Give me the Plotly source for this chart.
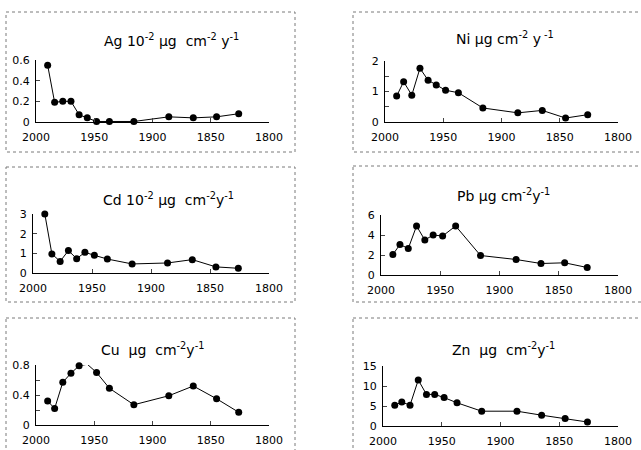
import plotly.graph_objects as go

W, H = 641, 450

years = [1990, 1984, 1977, 1970, 1963, 1956, 1948, 1937, 1916, 1886, 1865, 1845, 1826]
ag = [0.55, 0.19, 0.20, 0.20, 0.07, 0.04, 0.005, 0.005, 0.005, 0.05, 0.04, 0.05, 0.08]
ni = [0.85, 1.32, 0.88, 1.76, 1.37, 1.21, 1.04, 0.96, 0.46, 0.30, 0.38, 0.13, 0.24]
cd = [3.0, 0.97, 0.59, 1.14, 0.73, 1.05, 0.90, 0.71, 0.46, 0.51, 0.68, 0.31, 0.24]
pb = [2.05, 3.05, 2.65, 4.9, 3.5, 4.0, 3.9, 4.9, 1.95, 1.55, 1.15, 1.22, 0.75]
cu = [0.32, 0.22, 0.57, 0.69, 0.79, 0.81, 0.70, 0.49, 0.27, 0.39, 0.52, 0.35, 0.17]
zn = [5.2, 6.0, 5.2, 11.5, 7.9, 7.9, 7.1, 5.8, 3.7, 3.7, 2.7, 1.9, 1.0]

x_ticks = [2000, 1950, 1900, 1850, 1800]
x_labels = ["2000", "1950", "1900", "1850", "1800"]

titles = [
    "Ag 10<sup>-2</sup> µg  cm<sup>-2</sup> y<sup>-1</sup>",
    "Ni µg cm<sup>-2</sup> y<sup> -1</sup>",
    "Cd 10<sup>-2</sup> µg  cm<sup>-2</sup>y<sup>-1</sup>",
    "Pb µg cm<sup>-2</sup>y<sup>-1</sup>",
    "Cu  µg  cm<sup>-2</sup>y<sup>-1</sup>",
    "Zn  µg  cm<sup>-2</sup>y<sup>-1</sup>",
]
series = [ag, ni, cd, pb, cu, zn]
y_ticks = [
    [0, 0.2, 0.4, 0.6],
    [0, 0.5, 1, 1.5, 2],
    [0, 1, 2, 3],
    [0, 2, 4, 6],
    [0, 0.2, 0.4, 0.6, 0.8],
    [0, 5, 10, 15],
]
y_labels = [
    ["0", "0.2", "0.4", "0.6"],
    ["0", "", "1", "", "2"],
    ["0", "1", "2", "3"],
    ["0", "2", "4", "6"],
    ["0", "", "0.4", "", "0.8"],
    ["0", "5", "10", "15"],
]

# pixel layout: plot area (x0, x1, ybottom, ytop), frame (x0, y0, x1, y1), title centre
plot_px = [
    (36, 269, 122, 60),
    (385, 618, 122, 61),
    (33, 269, 273, 214),
    (381, 618, 275, 215),
    (36, 269, 425, 365),
    (383, 618, 426, 366),
]
frame_px = [
    (6, 12, 295, 152),
    (353, 12, 660, 152),
    (6, 167, 295, 302),
    (353, 166, 660, 302),
    (6, 318, 295, 460),
    (353, 318, 660, 460),
]
title_px = [(171, 40), (505, 38), (169, 199), (503, 195), (152, 349), (503, 349)]

FONT = "DejaVu Sans"
fig = go.Figure()
layout = dict(
    template="none",
    width=W, height=H,
    margin=dict(l=0, r=0, t=0, b=0, autoexpand=False),
    paper_bgcolor="white", plot_bgcolor="white",
    showlegend=False,
    font=dict(family=FONT, size=11, color="black"),
    shapes=[], annotations=[],
)

for i, (vals, pp) in enumerate(zip(series, plot_px)):
    n = i + 1
    xa = "x" if n == 1 else f"x{n}"
    ya = "y" if n == 1 else f"y{n}"
    fig.add_trace(go.Scatter(
        x=years, y=vals, xaxis=xa, yaxis=ya, mode="lines+markers",
        line=dict(color="black", width=1),
        marker=dict(color="black", size=7),
        cliponaxis=False, hoverinfo="skip",
    ))
    x0, x1, yb, yt = pp
    layout[f"xaxis{'' if n == 1 else n}"] = dict(
        domain=[x0 / W, x1 / W], anchor=ya, range=[2000, 1800],
        tickvals=x_ticks, ticktext=x_labels, ticks="inside", ticklen=4,
        showline=True, linecolor="black", linewidth=1, showgrid=False,
        zeroline=False, tickfont=dict(size=11), fixedrange=True,
        automargin=False, ticklabelstandoff=5,
    )
    layout[f"yaxis{'' if n == 1 else n}"] = dict(
        domain=[1 - yb / H, 1 - yt / H], anchor=xa,
        range=[0, y_ticks[i][-1]],
        tickvals=y_ticks[i], ticktext=y_labels[i], ticks="inside", ticklen=4,
        showline=True, linecolor="black", linewidth=1, showgrid=False,
        zeroline=False, tickfont=dict(size=11), fixedrange=True,
        automargin=False, ticklabelstandoff=3,
    )
    fx0, fy0, fx1, fy1 = frame_px[i]
    layout["shapes"].append(dict(
        type="rect", xref="paper", yref="paper",
        x0=fx0 / W, x1=fx1 / W, y0=1 - fy0 / H, y1=1 - fy1 / H,
        line=dict(color="#7a7a7a", width=1, dash="dot"),
    ))
    tx, ty = title_px[i]
    layout["annotations"].append(dict(
        text=titles[i], xref="paper", yref="paper",
        x=tx / W, y=1 - ty / H, xanchor="center", yanchor="middle",
        showarrow=False, font=dict(size=14, family=FONT),
    ))

fig.update_layout(**layout)
fig.write_html(
    "out.html",
    config={"displayModeBar": False},
    post_script="document.body.style.margin='0';document.body.style.overflow='hidden';",
)
